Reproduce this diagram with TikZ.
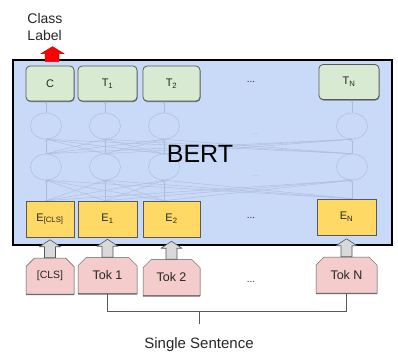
\documentclass[tikz,border=0pt]{standalone}
\usepackage{fontspec}
\setmainfont{Liberation Sans}
\usepackage{xcolor}
\usepackage{tikz}
\usetikzlibrary{positioning, arrows.meta, shapes.geometric, shapes.misc, shadows}
\definecolor{bInk}{HTML}{262626}
\definecolor{bLine}{HTML}{595959}
\definecolor{bBlue}{HTML}{C9DAF8}
\definecolor{bNet}{HTML}{ADBCD9}
\definecolor{bGreen}{HTML}{D9EAD3}
\definecolor{bGold}{HTML}{FFD966}
\definecolor{bPink}{HTML}{F4CCCC}
\definecolor{bGrey}{HTML}{D9D9D9}
\definecolor{bRed}{HTML}{FF0000}
\tikzset{
  outbox/.style={draw=bLine, fill=bGreen, line width=0.8pt, rounded corners=4pt, minimum height=35pt, inner sep=0pt, text=bInk, font=\fontsize{11}{13}\selectfont, drop shadow={shadow xshift=0.5pt, shadow yshift=-1pt, fill=bLine, opacity=0.8}},
  embbox/.style={draw=bLine, fill=bGold, line width=0.7pt, minimum height=36pt, inner sep=0pt, text=bInk, font=\fontsize{11}{13}\selectfont},
  tokbox/.style={chamfered rectangle, chamfered rectangle corners={north west, north east}, chamfered rectangle xsep=7pt, draw=bLine, fill=bPink, line width=0.5pt, minimum height=36pt, inner sep=0pt, text=bInk, font=\fontsize{12.5}{15}\selectfont, drop shadow={shadow xshift=0pt, shadow yshift=-1.2pt, fill=bLine, opacity=0.9}},
  hid/.style={ellipse, draw=bNet, fill=bBlue, line width=0.5pt, minimum width=31pt, minimum height=26pt, inner sep=0pt},
  net/.style={draw=bNet, line width=0.45pt, -{Stealth[length=2.5pt, width=2pt]}},
  fat/.style={draw=bLine, fill=bGrey, line width=0.6pt, line join=round},
  dots/.style={text=bInk, font=\fontsize{10}{12}\selectfont}
}
\begin{document}
\begin{tikzpicture}[x=1pt, y=-1pt]
  \useasboundingbox (0,0) rectangle (398,356);
  % encoder block
  \node[draw=black, fill=bBlue, line width=1.6pt, minimum width=379pt, minimum height=185pt, inner sep=0pt] (bert) at (202.5,152.5) {};
  \foreach \c/\x in {1/46,2/105,3/164,4/352}
    {\node[hid] (lo\c) at (\x,167) {};
     \node[hid] (up\c) at (\x,126) {};}
  \node[text=bNet, font=\fontsize{8}{10}\selectfont] (dup) at (255,134) {...};
  \node[text=bNet, font=\fontsize{8}{10}\selectfont] (dlo) at (255,176) {...};
  % outputs and embeddings
  \node[outbox, minimum width=48pt] (out1) at (50,83.5) {C};
  \node[outbox, minimum width=59pt] (out2) at (107.5,83.5) {T\textsubscript{1}};
  \node[outbox, minimum width=57pt] (out3) at (171.5,83.5) {T\textsubscript{2}};
  \node[outbox, minimum width=60pt] (out4) at (349,82) {T\textsubscript{N}};
  \node[embbox, minimum width=48pt] (emb1) at (50,219) {E\textsubscript{[CLS]}};
  \node[embbox, minimum width=59pt] (emb2) at (107.5,219) {E\textsubscript{1}};
  \node[embbox, minimum width=57pt] (emb3) at (171.5,219) {E\textsubscript{2}};
  \node[embbox, minimum width=59pt] (emb4) at (346.5,217) {E\textsubscript{N}};
  \foreach \i in {1,...,4}
    {\draw[net] (up\i.north) -- (up\i.north |- out\i.south);
     \foreach \j in {1,...,4}
       {\draw[net] (lo\j.north) -- (up\i.south);
        \draw[net] (lo\j.south |- emb\j.north) -- (lo\i.south);}}
  \node[font=\fontsize{25}{30}\selectfont, text=black] (name) at (200,154) {BERT};
  \node[dots] (dout) at (251,82) {...};
  \node[dots] (demb) at (251,218) {...};
  % input tokens
  \node[tokbox, minimum width=48pt, font=\fontsize{10.5}{13}\selectfont] (tok1) at (50,276) {[CLS]};
  \node[tokbox, minimum width=59pt] (tok2) at (107.5,275.5) {Tok 1};
  \node[tokbox, minimum width=57pt] (tok3) at (171.5,277.5) {Tok 2};
  \node[tokbox, minimum width=61pt] (tok4) at (346.5,275) {Tok N};
  \node[dots] (dtok) at (251,282) {...};
  \foreach \c in {1,...,4}
    {\draw[fat] ([xshift=-5.5pt]tok\c.north) -- ++(0,-11) -- ++(-5,0) -- ++(10.5,-7) -- ++(10.5,7) -- ++(-5,0) -- ++(0,11) -- cycle;}
  % class label
  \draw[draw=red!80!black, fill=bRed, line width=0.4pt] ([xshift=-5pt,yshift=4pt]out1.north) -- ++(0,-8) -- ++(-4,0) -- ++(11.5,-7) -- ++(11.5,7) -- ++(-5,0) -- ++(0,8) -- cycle;
  \node[align=left, text=bInk, font=\fontsize{14}{17}\selectfont] (cls) at (45,27) {Class\\Label};
  % sentence bracket
  \coordinate (mid) at (199,311);
  \coordinate (stem) at (199,324);
  \draw[bLine, line width=0.6pt] (tok2.south) -- ++(0,18) -| (tok4.south);
  \draw[bLine, line width=0.6pt] (mid) -- (stem);
  \node[text=bInk, font=\fontsize{15}{18}\selectfont] (sent) at (199,345) {Single Sentence};
\end{tikzpicture}
\end{document}
